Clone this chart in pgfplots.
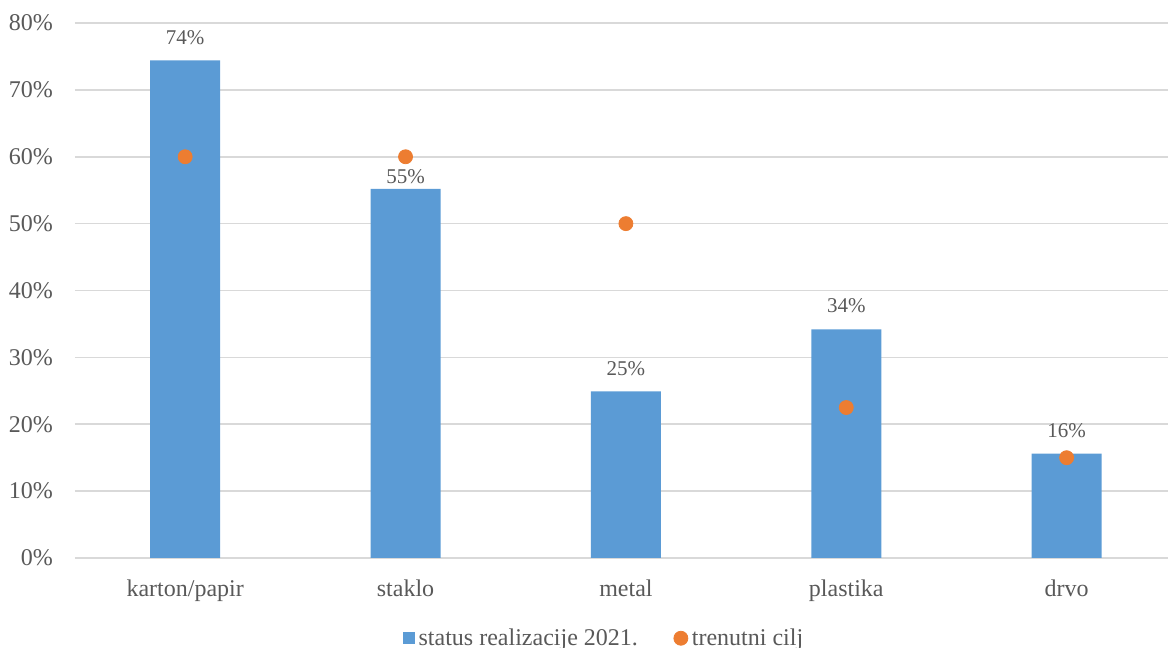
\documentclass[border=0pt]{standalone}
\usepackage{pgfplots}
\pgfplotsset{compat=1.18}
\usepackage{fontspec}
\setmainfont{Liberation Serif}
\definecolor{barblue}{HTML}{5B9BD5}
\definecolor{dotorange}{HTML}{ED7D31}
\definecolor{txtgray}{HTML}{595959}
\definecolor{gridgray}{HTML}{D9D9D9}
\begin{document}
\begin{tikzpicture}
\path[use as bounding box] (0,0) rectangle (584pt,324pt);
\begin{axis}[
    at={(37.5pt,45pt)}, anchor=south west,
    scale only axis,
    width=546.5pt, height=267.5pt,
    xmin=-0.5, xmax=4.46,
    ymin=0, ymax=80,
    ytick={0,10,...,80},
    yticklabel={\pgfmathprintnumber{\tick}\%},
    xtick={0,1,2,3,4},
    xticklabels={karton/papir, staklo, metal, plastika, drvo},
    major tick length=0pt,
    axis line style={draw=none},
    ymajorgrids=true,
    grid style={gridgray, line width=0.8pt},
    tick label style={font=\fontsize{12}{14}\selectfont, text=txtgray},
    yticklabel style={xshift=-7.5pt},
    xticklabel style={yshift=-7.5pt},
    /pgf/number format/assume math mode=true,
    legend style={at={(0.485,-0.150)}, anchor=center, draw=none,
        font=\fontsize{12}{14}\selectfont, text=txtgray,
        legend columns=2, /tikz/every even column/.append style={column sep=16pt},
        inner sep=0pt},
    legend cell align=left,
]
\addplot[
    ybar, bar width=35pt, fill=barblue, draw=none,
    nodes near coords={\pgfmathprintnumber[fixed,precision=0]{\pgfplotspointmeta}\%},
    every node near coord/.append style={font=\fontsize{10.5}{12}\selectfont, text=txtgray, anchor=south, yshift=4.5pt},
    coordinate style/.condition={x>0.5 && x<1.5}{yshift=-5.5pt},
    legend image code/.code={\fill[barblue] (0pt,-2.9pt) rectangle (5.8pt,2.9pt);}
] coordinates {
    (0,74.4) (1,55.2) (2,24.9) (3,34.2) (4,15.6)
};
\addlegendentry{status realizacije 2021.}
\addplot[
    only marks, mark=*, mark size=3.5pt, color=dotorange
] coordinates {
    (0,60) (1,60) (2,50) (3,22.5) (4,15)
};
\addlegendentry{trenutni cilj}
\end{axis}
\end{tikzpicture}
\end{document}
